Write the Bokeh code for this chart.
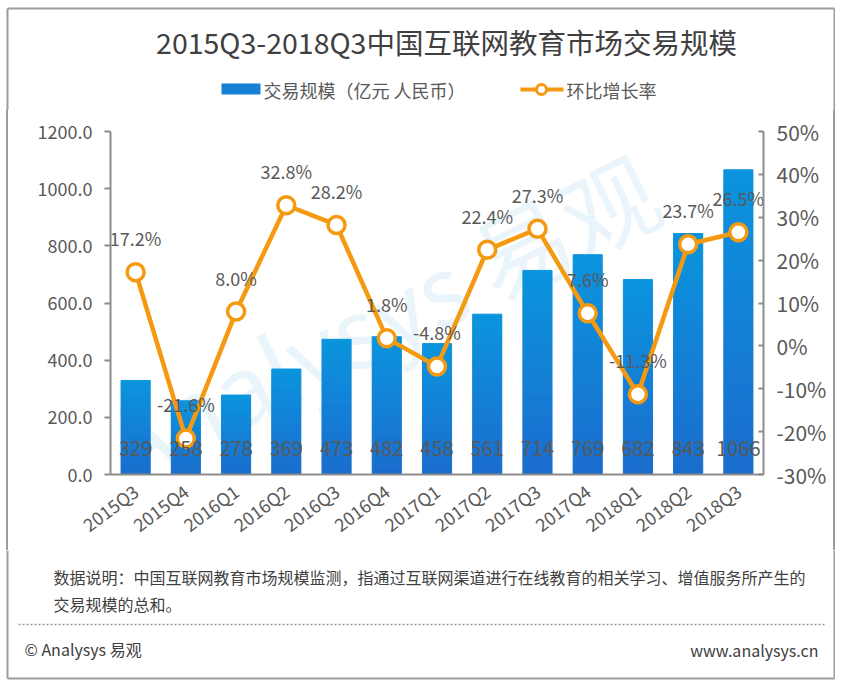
from bokeh.plotting import figure
from bokeh.layouts import column, row
from bokeh.models import (FactorRange, Range1d, LinearAxis, FixedTicker, PrintfTickFormatter,
                          Label, ColumnDataSource)
from bokeh.core.properties import value
from bokeh.embed import file_html
from bokeh.resources import INLINE

# ---------------- data ----------------
quarters = ["2015Q3", "2015Q4", "2016Q1", "2016Q2", "2016Q3", "2016Q4", "2017Q1",
            "2017Q2", "2017Q3", "2017Q4", "2018Q1", "2018Q2", "2018Q3"]
trade_scale = [329, 258, 278, 369, 473, 482, 458, 561, 714, 769, 682, 843, 1066]
growth_rate = [17.2, -21.6, 8.0, 32.8, 28.2, 1.8, -4.8, 22.4, 27.3, 7.6, -11.3, 23.7, 26.5]
left_ticks = [0, 200, 400, 600, 800, 1000, 1200]
right_ticks = [-30, -20, -10, 0, 10, 20, 30, 40, 50]

title_text = "2015Q3-2018Q3中国互联网教育市场交易规模"
legend_bar_text = "交易规模（亿元 人民币）"
legend_line_text = "环比增长率"
note_lines = ["数据说明：中国互联网教育市场规模监测，指通过互联网渠道进行在线教育的相关学习、增值服务所产生的",
              "交易规模的总和。"]
copyright_text = "© Analysys 易观"
site_text = "www.analysys.cn"
watermark_text = "Analysys 易观"

# ---------------- style ----------------
FONT = "Noto Sans CJK SC"
ORANGE = "#f59a10"
BAR_TOP = (11, 148, 222)
BAR_BOTTOM = (27, 109, 205)
GREY_TXT = "#595959"
DARK_TXT = "#404040"
AXIS_C = "#8c8c8c"
BORDER_C = "#9c9c9c"

W, H = 835, 680
TOP_H = 110          # title + legend strip
CHART_H = 440        # chart strip (frame 131..474)
BOT_H = H - TOP_H - CHART_H
BX0, BX1 = 7, W - 1  # border x positions
BY1 = BOT_H - 2      # bottom border y inside bottom strip


def blank(width, height):
    f = figure(width=width, height=height, x_range=Range1d(0, width), y_range=Range1d(height, 0),
               x_axis_type=None, y_axis_type=None, output_backend="svg", toolbar_location=None,
               min_border=0, min_border_left=0, min_border_right=0, min_border_top=0,
               min_border_bottom=0)
    f.outline_line_color = None
    f.background_fill_color = "white"
    f.border_fill_color = "white"
    return f


# ---------------- top strip: title + legend ----------------
top = blank(W, TOP_H)
top.segment(x0=[BX0, BX0, BX1], y0=[8, 8, 8], x1=[BX1, BX0, BX1], y1=[8, TOP_H, TOP_H],
            line_color=BORDER_C, line_width=2)
top.text(x=[446], y=[41], text=[title_text], text_align="center", text_baseline="middle",
         text_font=value(FONT), text_font_size="28.5px", text_color=DARK_TXT)
top.quad(left=[221], right=[260], top=[83], bottom=[94], fill_color="#1580d6", line_color=None)
top.text(x=[263], y=[89], text=[legend_bar_text], text_align="left", text_baseline="middle",
         text_font=value(FONT), text_font_size="18px", text_color=GREY_TXT)
top.segment(x0=[520], y0=[89], x1=[563], y1=[89], line_color=ORANGE, line_width=4)
top.scatter(x=[541], y=[89], size=10, fill_color="white", line_color=ORANGE, line_width=3)
top.text(x=[566], y=[89], text=[legend_line_text], text_align="left", text_baseline="middle",
         text_font=value(FONT), text_font_size="18px", text_color=GREY_TXT)

# ---------------- chart ----------------
side_border = ("linear-gradient(to right, transparent %dpx, %s %dpx, %s %dpx, transparent %dpx, "
               "transparent %dpx, %s %dpx, %s %dpx, transparent %dpx)"
               % (BX0 - 1, BORDER_C, BX0 - 1, BORDER_C, BX0 + 1, BX0 + 1,
                  BX1 - 1, BORDER_C, BX1 - 1, BORDER_C, BX1 + 1, BX1 + 1))
p = figure(width=W, height=CHART_H, x_range=FactorRange(factors=quarters, range_padding=0),
           y_range=Range1d(0, 1200), output_backend="svg", toolbar_location=None,
           min_border_left=110, min_border_right=W - 763,
           min_border_top=131 - TOP_H, min_border_bottom=CHART_H - (474 - TOP_H),
           styles={"background-color": "white", "background-image": side_border})
p.extra_y_ranges = {"pct": Range1d(-30, 50)}
p.outline_line_color = None
p.background_fill_color = "white"
p.border_fill_alpha = 0
p.xgrid.visible = False
p.ygrid.visible = False

ya = p.yaxis[0]
ya.ticker = FixedTicker(ticks=left_ticks)
ya.formatter = PrintfTickFormatter(format="%.1f")
ya.axis_line_color = AXIS_C
ya.axis_line_width = 2
ya.major_tick_line_color = AXIS_C
ya.major_tick_line_width = 2
ya.major_tick_out = 6
ya.major_tick_in = 0
ya.minor_tick_line_color = None
ya.major_label_text_font = FONT
ya.major_label_text_font_size = "18px"
ya.major_label_text_color = GREY_TXT
ya.major_label_standoff = 12

ra = LinearAxis(y_range_name="pct", ticker=FixedTicker(ticks=right_ticks),
                formatter=PrintfTickFormatter(format="%d%%"))
ra.axis_line_color = AXIS_C
ra.axis_line_width = 2
ra.major_tick_line_color = AXIS_C
ra.major_tick_line_width = 2
ra.major_tick_in = 5
ra.major_tick_out = 0
ra.minor_tick_line_color = None
ra.major_label_text_font = FONT
ra.major_label_text_font_size = "21px"
ra.major_label_text_color = GREY_TXT
ra.major_label_standoff = 13
p.add_layout(ra, "right")

xa = p.xaxis[0]
xa.axis_line_color = AXIS_C
xa.axis_line_width = 2
xa.major_tick_line_color = None
xa.minor_tick_line_color = None
xa.major_label_orientation = 0.64
xa.major_label_text_font = FONT
xa.major_label_text_font_size = "18px"
xa.major_label_text_color = GREY_TXT
xa.major_label_standoff = 8

# faint watermark inside the plot area
p.add_layout(Label(x=270, y=160, x_units="screen", y_units="screen", text=watermark_text,
                   angle=0.46, text_font=FONT, text_font_size="96px", text_color="#2a8fdc",
                   text_alpha=0.1, text_align="center", text_baseline="middle",
                   level="underlay"))

# gradient bars: each bar split into thin slices
N = 40
seg_x, seg_b, seg_t, seg_c = [], [], [], []
for q, v in zip(quarters, trade_scale):
    for i in range(N):
        f = (i + 0.5) / N
        c = tuple(int(round(BAR_BOTTOM[k] + (BAR_TOP[k] - BAR_BOTTOM[k]) * f)) for k in range(3))
        seg_x.append(q)
        seg_b.append(v * i / N)
        seg_t.append(v * (i + 1) / N)
        seg_c.append("#%02x%02x%02x" % c)
bar_src = ColumnDataSource(dict(x=seg_x, bottom=seg_b, top=seg_t, color=seg_c))
p.vbar(x="x", bottom="bottom", top="top", width=0.58, fill_color="color",
       line_color="color", line_width=1, source=bar_src)

p.line(quarters, growth_rate, y_range_name="pct", line_color=ORANGE, line_width=4.5)
p.scatter(quarters, growth_rate, y_range_name="pct", size=17, fill_color="white",
          line_color=ORANGE, line_width=3.5)

p.text(x=quarters, y=[0] * len(quarters), text=[str(v) for v in trade_scale],
       y_offset=-26, text_align="center", text_baseline="middle",
       text_font=value(FONT), text_font_size="20px", text_color=GREY_TXT)
p.text(x=quarters, y=growth_rate, y_range_name="pct", text=["%.1f%%" % g for g in growth_rate],
       y_offset=-34, text_align="center", text_baseline="middle",
       text_font=value(FONT), text_font_size="18px", text_color=GREY_TXT)

# ---------------- bottom strip: note + footer ----------------
bot = blank(W, BOT_H)
bot.segment(x0=[BX0, BX1, BX0], y0=[0, 0, BY1], x1=[BX0, BX1, BX1], y1=[BY1, BY1, BY1],
            line_color=BORDER_C, line_width=2)
bot.text(x=[53, 53], y=[576 - 550, 603 - 550], text=note_lines, text_align="left",
         text_baseline="middle", text_font=value(FONT), text_font_size="16px",
         text_color=DARK_TXT)
bot.segment(x0=[18], y0=[624 - 550], x1=[826], y1=[624 - 550], line_color="#9a9a9a",
            line_width=1.5, line_dash="2 2")
bot.text(x=[24], y=[648 - 550], text=[copyright_text], text_align="left", text_baseline="middle",
         text_font=value(FONT), text_font_size="16px", text_color=DARK_TXT)
bot.text(x=[818], y=[649 - 550], text=[site_text], text_align="right", text_baseline="middle",
         text_font=value(FONT), text_font_size="16px", text_color=DARK_TXT)

layout = column(top, row(p), bot)
open("out.html", "w").write(file_html(layout, INLINE))
